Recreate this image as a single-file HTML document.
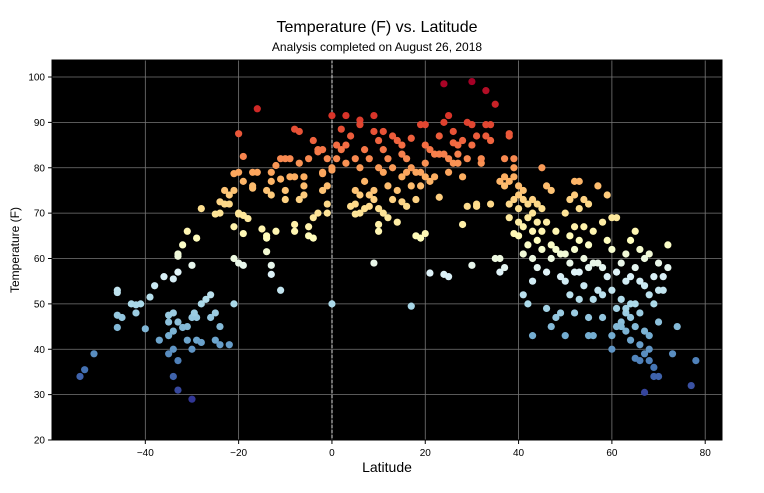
<!DOCTYPE html>
<html><head><meta charset="utf-8"><style>
body{margin:0;background:#fff;font-family:"Liberation Sans",sans-serif}
svg text{font-family:"Liberation Sans",sans-serif}
</style></head><body>
<svg id="chart" width="764" height="488" xmlns="http://www.w3.org/2000/svg">
<text x="377" y="32" text-anchor="middle" font-size="16">Temperature (F) vs. Latitude</text>
<text x="377" y="51" text-anchor="middle" font-size="12">Analysis completed on August 26, 2018</text>
<rect x="52" y="60" width="670" height="380" fill="#000"/>
<g id="grid"></g>
<line x1="332" y1="60" x2="332" y2="440" stroke="#fff" stroke-width="0.8" stroke-dasharray="3,2"/>
<g id="pts"></g>
<rect x="52" y="60" width="670" height="380" fill="none" stroke="#000" stroke-width="1"/>
<g id="ticks"></g>
<text x="387" y="472" text-anchor="middle" font-size="14">Latitude</text>
<text transform="translate(19,250) rotate(-90)" text-anchor="middle" font-size="12">Temperature (F)</text>
</svg>
<script>
const xTicks=[-40,-20,0,20,40,60,80];
const yTicks=[20,30,40,50,60,70,80,90,100];
const lat=[-54,-53,-51,-46,-46,-46,-45,-46,-43,-42,-42,-41,-40,-39,-38,-37,-36,-34,-33,-33,-33,-32,-31,-30,-29,-28,-28,-27,-26,-26,-25,-24,-25,-24,-22,-21,-35,-34,-35,-33,-34,-35,-34,-35,-33,-34,-33,-30,-32,-31,-30,-30,-31,-29,-29,-29.5,-28,
-25,-24,-24,-23,-23,-22,-22,-21,-20,-20,-19,-18,-19,-21,-20,-19,-19,-20,-19,-20,-21,-21,-17,-16,-16,-17,-17,-15,-14,-14,-13,-13,-14,-11,-12,-10,-10,-9,-9,-8,-8,-7,-7,-6,-6,-6,-11,-10,-11,-12,-13,-13,-14,-5,-5,-5,-8,-8,-4,-4,-3,-3,-4,-3,-2,-2,-2,-1,-1,-1,-1,0,0,0,0,-2,-7,-13,
1,1,2,2,3,3,3,4,4,5,5,5,5,6,6,6,6,6,7,7,7,8,8,8,9,9,9,9,9,10,10,10,10,10,11,11,11,11,12,12,12,13,13,13,14,14,14,15,15,15,15,16,16,16,17,17,17,17,18,18,18,19,19,19,19,20,20,20,20,20,21,21,21,22,22,23,23,23,24,24,24,24,25,25,25,25,26,26,26,27,27,27,28,28,28,29,29,29,30,30,30,30,31,31,31,32,32,33,33,33,34,34,34,35,35,36,36,36,37,37,37,37,38,38,38,38,38,39,39,39,39,39,40,40,40,40,40,41,41,41,41,41,42,42,42,42,43,43,43,43,43,43,44,44,44,44,45,45,45,45,46,46,46,46,47,47,47,47,48,48,48,49,49,49,50,50,50,50,51,51,51,51,52,52,52,52,52,52,53,53,53,53,53,54,54,54,54,55,55,55,55,55,56,56,56,56,57,57,57,58,58,58,58,59,59,59,60,60,60,60,60,61,61,61,61,62,62,62,63,63,63,63,64,64,64,64,64,65,65,65,65,65,66,66,66,66,67,67,67,67,67,68,68,68,68,69,69,69,70,70,70,70,71,71,72,72,73,74,77,78,68,69,66,62,63];
const temp=[34,35.5,39,53,52.5,47.5,47,44.8,50,49.8,48,50,44.5,51.5,54,42,56,55.5,61,60.5,57,63,66,58.5,64.5,71,50,51,52,47,48,45,42,41,41,50,47.5,48,46,46,44,43,40,39,37.5,34,31,29,44.8,45,47,40,42,47,42,48,41.5,
69.8,70,72.5,72,75,72,74,67,70,69.8,69.5,68.8,65.5,60,59,58.5,82.5,87.5,77,79,78.7,75,79,79,93,75.5,76,66.5,64.5,65,56.5,58.5,61.5,53,66,73,75,82,78,78,88.5,88,81,78,76,74,82,82,77.5,80.5,77,79,75,82,67,65,66,67.5,64.5,69,70,84,86,83.5,84,79,78.7,72,70,76,82,91.5,80,79.5,50,75,73,74,
85,82,88.5,84,91.5,85,81,87,71.5,82,72,75,69.8,90.5,89.5,80,74,70,71,77,84,82,74,71.5,73,75,59,91.5,88,86,80,67.5,66,71,70,79,84,88,82,76,69,87,80,73,86,75,68,85,83,78,72.5,82,79,71.5,86.5,80,76,49.5,79,73,65,79,76,64.5,89.5,85,81,78,89.5,65.5,84,77,56.8,83,78,83,87,73.5,83,90,98.5,56.5,82,79,91.5,56,85.5,88,81,83,85,81,86,78,67.5,82,71.5,90,89.5,85,99,58.5,87,72,71.5,81,82,89.5,87,97,89.5,86,72,60,94,77,57,60,82,76,78,58,87,87.5,77,72,69,80,82,78,73,65.5,76,74,71,68,65,75,73,67,61,52,72,69,63,50,73,70,66,60,55,43,72,68,64,58,80,71,66,62,76,68,57,49,75,63,60,45,66,62,47,61,56,48,70,61,55,43,73,65,59,52,77,74,67,62,57,48,77,71,64,57,51,73,67,60,54,72,63,58,47,43,66,59,51,43,76,59,53,68,58,52,47,74,64,56,69,62,53,43,40,69,57,49,45,59,51,46,61,55,48,44,64,56,50,42,47,66,58,50,45,38,62,55,48,41,60,54,44,39,30.5,61,52,43,37.5,56,50,36,59,53,46,34,53,56,58,63,39,45,32,37.5,40,34,37.5,45,49];
const X0=52,X1=722,xmin=-60,xmax=83.6,Y0=440,Y1=60,ymin=20,ymax=103.75;
const sx=v=>X0+(v-xmin)/(xmax-xmin)*(X1-X0);
const sy=v=>Y0-(v-ymin)/(ymax-ymin)*(Y0-Y1);
const stops=["#313695","#4575b4","#74add1","#abd9e9","#e0f3f8","#ffffbf","#fee090","#fdae61","#f46d43","#d73027","#a50026"];
function hex(h){return [1,3,5].map(i=>parseInt(h.substr(i,2),16));}
function cmap(t){t=Math.max(0,Math.min(1,t));const p=t*10,i=Math.min(9,Math.floor(p)),f=p-i;const a=hex(stops[i]),b=hex(stops[i+1]);return "rgb("+a.map((v,k)=>Math.round(v+(b[k]-v)*f)).join(",")+")";}
const NS="http://www.w3.org/2000/svg";
const grid=document.getElementById("grid"),ticks=document.getElementById("ticks"),pts=document.getElementById("pts");
xTicks.forEach(v=>{const x=sx(v);
 const l=document.createElementNS(NS,"line");
 
 
 l.setAttribute("x1",x);l.setAttribute("x2",x);l.setAttribute("y1",Y1);l.setAttribute("y2",Y0);l.setAttribute("stroke","#777");l.setAttribute("stroke-width","0.8");grid.appendChild(l);
 const tk=document.createElementNS(NS,"line");
 
 
 tk.setAttribute("x1",x);tk.setAttribute("x2",x);tk.setAttribute("y1",Y0);tk.setAttribute("y2",Y0+4);tk.setAttribute("stroke","#000");ticks.appendChild(tk);
 const t=document.createElementNS(NS,"text");
 
 
 t.setAttribute("x",x);t.setAttribute("y",Y0+16);t.setAttribute("text-anchor","middle");t.setAttribute("font-size","10");t.textContent=v<0?"\u2212"+(-v):v;ticks.appendChild(t);});
yTicks.forEach(v=>{const y=sy(v);
 const l=document.createElementNS(NS,"line");
 
 
 l.setAttribute("x1",X0);l.setAttribute("x2",X1);l.setAttribute("y1",y);l.setAttribute("y2",y);l.setAttribute("stroke","#777");l.setAttribute("stroke-width","0.8");grid.appendChild(l);
 const tk=document.createElementNS(NS,"line");
 
 
 tk.setAttribute("x1",X0-4);tk.setAttribute("x2",X0);tk.setAttribute("y1",y);tk.setAttribute("y2",y);tk.setAttribute("stroke","#000");ticks.appendChild(tk);
 const t=document.createElementNS(NS,"text");
 
 
 t.setAttribute("x",X0-7);t.setAttribute("y",y+3.5);t.setAttribute("text-anchor","end");t.setAttribute("font-size","10");t.textContent=v;ticks.appendChild(t);});
const tmin=29,tmax=99;
lat.forEach((la,i)=>{const c=document.createElementNS(NS,"circle");
 
 
 c.setAttribute("cx",sx(la));c.setAttribute("cy",sy(temp[i]));c.setAttribute("r","3.6");c.setAttribute("fill",cmap((temp[i]-tmin)/(tmax-tmin)));pts.appendChild(c);});
</script>
</body></html>
